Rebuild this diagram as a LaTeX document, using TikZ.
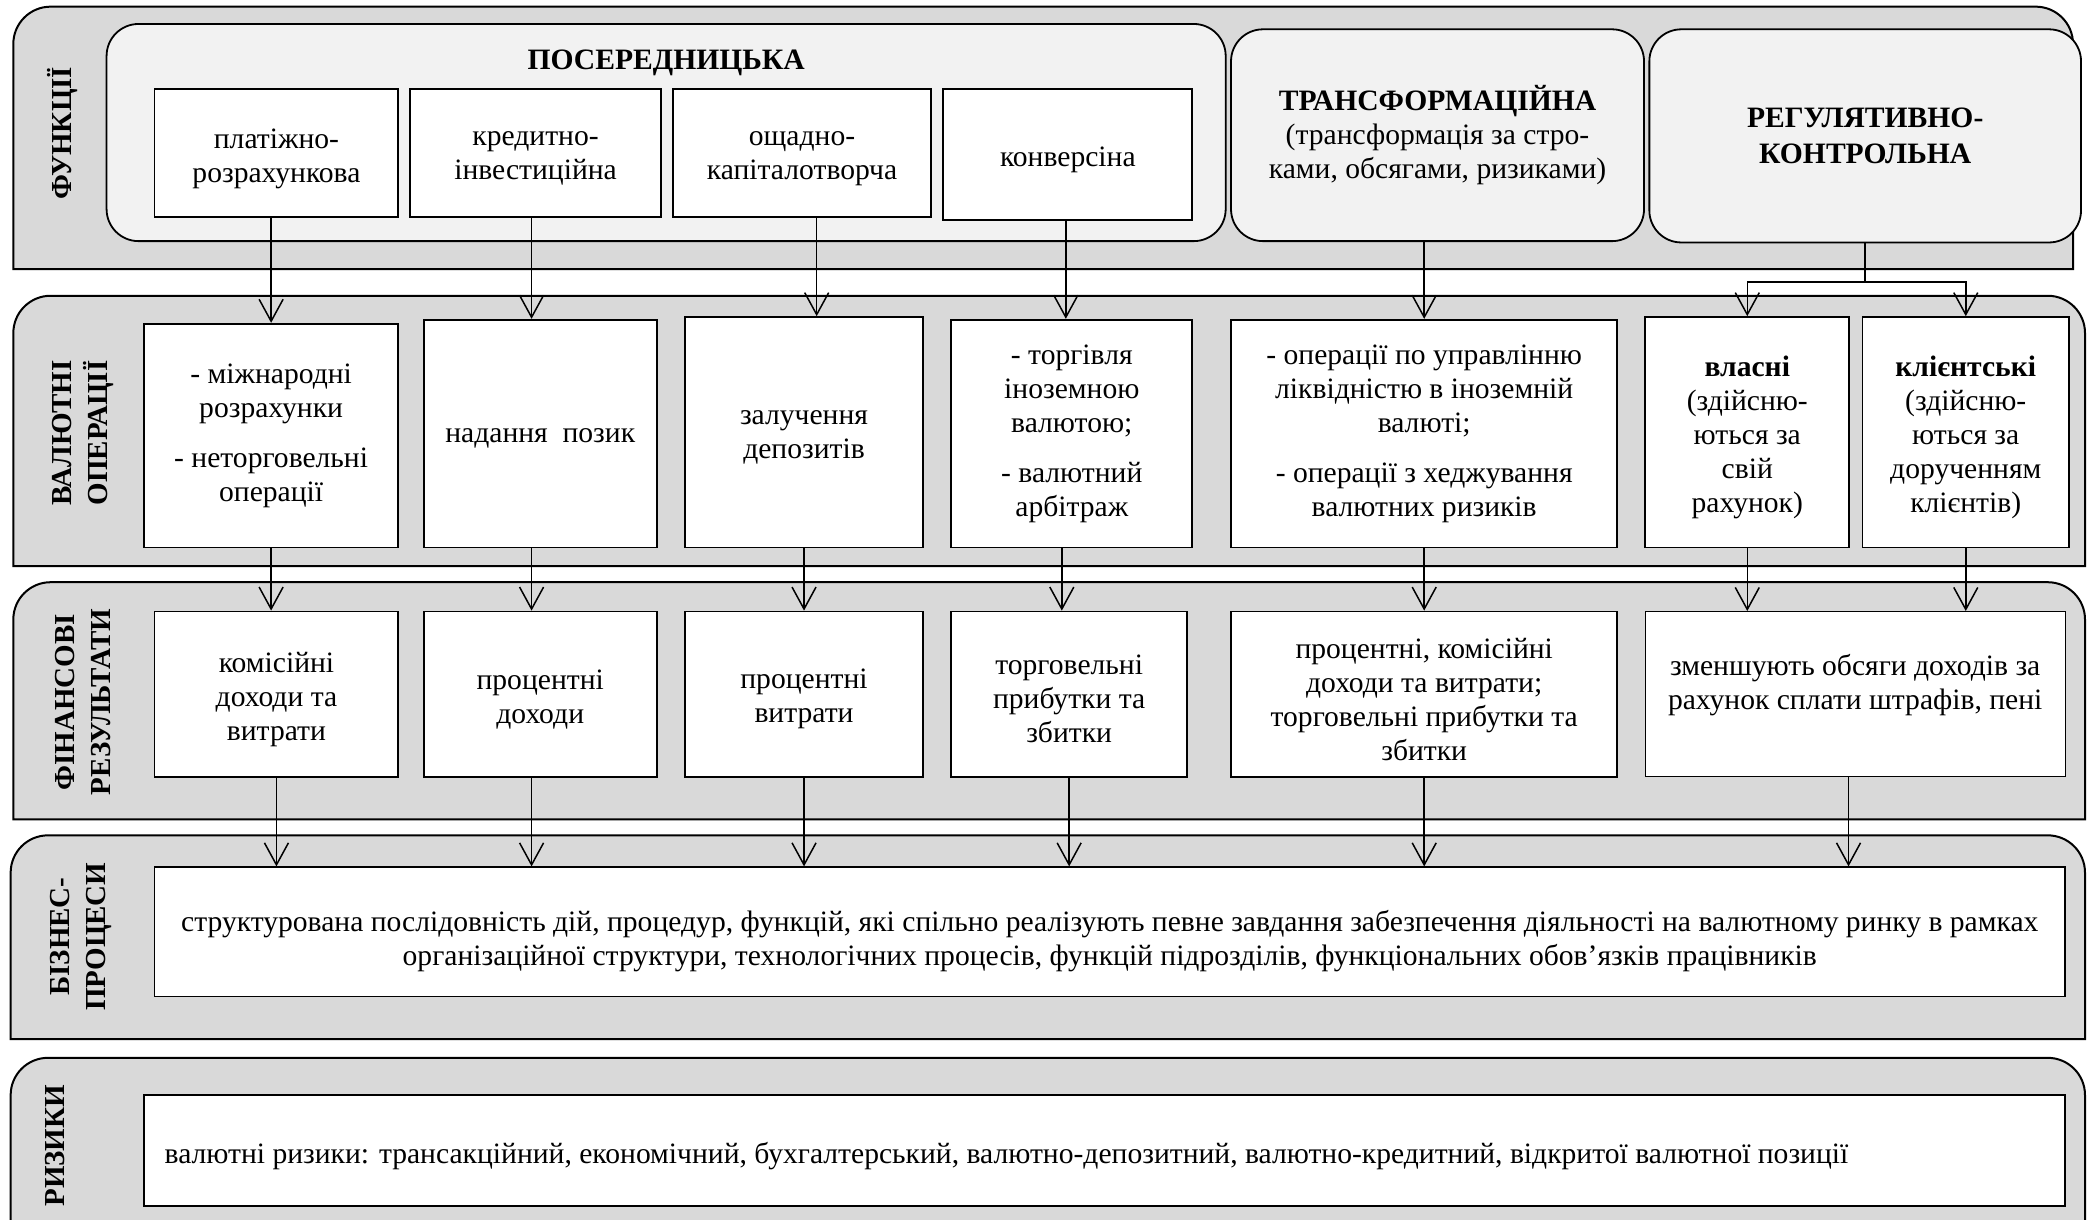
\documentclass[tikz,border=0pt]{standalone}
\usepackage{fontspec}
\setmainfont{Liberation Serif}
\usetikzlibrary{arrows.meta,calc,fit}

\begin{document}
\begin{tikzpicture}[x=0.6662pt,y=-0.6662pt,
  band/.style={draw=black,fill=bandColor,line width=1pt},
  group/.style={draw=black,fill=groupColor,line width=0.9pt,rounded corners=16pt,inner sep=0pt,fit={#1}},
  cell/.style={draw=black,fill=white,line width=0.9pt,inner sep=0pt,fit={#1}},
  ttl/.style={inner sep=0pt,align=center,font=\fontsize{14.8}{17}\selectfont},
  txt/.style={ttl,yshift=-2.6pt},
  side/.style={rotate=90,align=center,inner sep=0pt,font=\fontsize{14.5}{18}\selectfont\bfseries},
  link/.style={line width=0.75pt},
  arr/.style={link,-{Straight Barb[length=11pt,width=12pt]}}]
\definecolor{bandColor}{RGB}{217,217,217}
\definecolor{groupColor}{RGB}{242,242,242}
\useasboundingbox (0,0) rectangle (1568,915);
\clip (0,0) rectangle (1568,915);

\path[band] (10,202) -- (10,33) arc[start angle=180,end angle=90,radius=18.65pt] -- (1528,5) arc[start angle=90,end angle=0,radius=18.65pt] -- (1556,202) -- cycle;
\path[band] (10,425) -- (10,250) arc[start angle=180,end angle=90,radius=18.65pt] -- (1537,222) arc[start angle=90,end angle=0,radius=18.65pt] -- (1565,425) -- cycle;
\path[band] (10,615) -- (10,465) arc[start angle=180,end angle=90,radius=18.65pt] -- (1537,437) arc[start angle=90,end angle=0,radius=18.65pt] -- (1565,615) -- cycle;
\path[band] (8,780) -- (8,655) arc[start angle=180,end angle=90,radius=18.65pt] -- (1537,627) arc[start angle=90,end angle=0,radius=18.65pt] -- (1565,780) -- cycle;
\path[band] (8,940) -- (8,822) arc[start angle=180,end angle=90,radius=18.65pt] -- (1537,794) arc[start angle=90,end angle=0,radius=18.65pt] -- (1565,940) -- cycle;

\node[side] (lblFun) at (47,100) {ФУНКЦІЇ};
\node[side] (lblOps) at (62,325) {ВАЛЮТНІ\\ОПЕРАЦІЇ};
\node[side] (lblRes) at (62,527) {ФІНАНСОВІ\\РЕЗУЛЬТАТИ};
\node[side] (lblProc) at (61,703) {БІЗНЕС-\\ПРОЦЕСИ};
\node[side] (lblRisk) at (41,860) {РИЗИКИ};

\node[group={(80,18) (920,181)}] (pos) {};
\node[ttl,font=\fontsize{14.8}{17}\selectfont\bfseries] (posText) at ($(pos.north)+(0,30)$) {ПОСЕРЕДНИЦЬКА};
\node[group={(924,22) (1234,181)}] (trans) {};
\node[ttl] (transText) at (trans) {\textbf{ТРАНСФОРМАЦІЙНА}\\(трансформація за стро-\\ками, обсягами, ризиками)};
\node[group={(1238,22) (1562,182)}] (reg) {};
\node[ttl,font=\fontsize{14.8}{18}\selectfont\bfseries] (regText) at (reg) {РЕГУЛЯТИВНО-\\КОНТРОЛЬНА};

\node[cell={(116,67) (299,163)}] (pay) {};
\node[txt] (payText) at (pay) {платіжно-\\розрахункова};
\node[cell={(308,67) (496,163)}] (cred) {};
\node[txt] (credText) at (cred) {кредитно-\\інвестиційна};
\node[cell={(505,67) (699,163)}] (sav) {};
\node[txt] (savText) at (sav) {ощадно-\\капіталотворча};
\node[cell={(708,67) (895,165)}] (conv) {};
\node[txt] (convText) at (conv) {конверсіна};

\node[cell={(108,243) (299,411)}] (opInt) {};
\node[txt] (opIntText) at ($(opInt)+(0,-4)$) {- міжнародні\\розрахунки\\[8pt]- неторговельні\\операції};
\node[cell={(318,240) (493,411)}] (opLoan) {};
\node[txt] (opLoanText) at (opLoan) {надання\ \ позик};
\node[cell={(514,238) (693,411)}] (opDep) {};
\node[txt] (opDepText) at (opDep) {залучення\\депозитів};
\node[cell={(714,240) (895,411)}] (opTrade) {};
\node[txt] (opTradeText) at ($(opTrade)+(0,-4)$) {- торгівля\\іноземною\\валютою;\\[8pt]- валютний\\арбітраж};
\node[cell={(924,240) (1214,411)}] (opLiq) {};
\node[txt] (opLiqText) at ($(opLiq)+(0,-4)$) {- операції по управлінню\\ліквідністю в іноземній\\валюті;\\[8pt]- операції з хеджування\\валютних ризиків};
\node[cell={(1235,238) (1388,411)}] (opOwn) {};
\node[txt] (opOwnText) at (opOwn) {\textbf{власні}\\(здійсню-\\ються за\\свій\\рахунок)};
\node[cell={(1398,238) (1553,411)}] (opCli) {};
\node[txt] (opCliText) at (opCli) {\textbf{клієнтські}\\(здійсню-\\ються за\\дорученням\\клієнтів)};

\node[cell={(116,459) (299,583)}] (resCom) {};
\node[txt] (resComText) at (resCom) {комісійні\\доходи та\\витрати};
\node[cell={(318,459) (493,583)}] (resInt) {};
\node[txt] (resIntText) at (resInt) {процентні\\доходи};
\node[cell={(514,459) (693,583)}] (resExp) {};
\node[txt] (resExpText) at (resExp) {процентні\\витрати};
\node[cell={(714,459) (891,583)}] (resTrade) {};
\node[txt] (resTradeText) at (resTrade) {торговельні\\прибутки та\\збитки};
\node[cell={(924,459) (1214,583)}] (resMix) {};
\node[txt] (resMixText) at (resMix) {процентні, комісійні\\доходи та витрати;\\торговельні прибутки та\\збитки};
\node[cell={(1235,459) (1550,583)},line width=0.5pt] (resFine) {};
\node[txt] (resFineText) at ($(resFine)+(0,-11)$) {зменшують обсяги доходів за\\рахунок сплати штрафів, пені};

\node[cell={(116,651) (1550,748)}] (proc) {};
\node[txt] (procText) at ($(proc)+(0,3)$) {структурована послідовність дій, процедур, функцій, які спільно реалізують певне завдання забезпечення діяльності на валютному ринку в рамках\\організаційної структури, технологічних процесів, функцій підрозділів, функціональних обов’язків працівників};

\node[cell={(108,822) (1550,905)}] (risk) {};
\node[txt,anchor=west] (riskText) at ($(risk.west)+(16,0)$) {валютні ризики: трансакційний, економічний, бухгалтерський, валютно-депозитний, валютно-кредитний, відкритої валютної позиції};

\draw[arr] (opInt.north |- pay.south) -- (opInt.north);
\draw[arr] ($(cred.south)+(-3,0)$) -- ($(opLoan.north)+(-6.5,0)$);
\draw[arr] ($(sav.south)+(11,0)$) -- ($(opDep.north)+(9.5,0)$);
\draw[arr] ($(conv.south)+(-1.5,0)$) -- ($(opTrade.north)+(-4.5,0)$);
\draw[arr] (opLiq.north |- trans.south) -- (opLiq.north);
\coordinate (regFork) at ($(reg.south)+(0,29)$);
\draw[link] (reg.south) -- (regFork);
\draw[arr] (regFork) -| (opOwn.north);
\draw[arr] (regFork) -| (opCli.north);

\draw[arr] (opInt.south) -- (opInt.south |- resCom.north);
\draw[arr] ($(opLoan.south)+(-6.5,0)$) -- ($(resInt.north)+(-6.5,0)$);
\draw[arr] (opDep.south) -- (resExp.north);
\draw[arr] ($(opTrade.south)+(-7.5,0)$) -- ($(resTrade.north)+(-5.5,0)$);
\draw[arr] (opLiq.south) -- (resMix.north);
\draw[arr] (opOwn.south) -- (opOwn.south |- resFine.north);
\draw[arr] (opCli.south) -- (opCli.south |- resFine.north);

\draw[arr] (resCom.south) -- (resCom.south |- proc.north);
\draw[arr] ($(resInt.south)+(-6.5,0)$) -- ($(resInt.south |- proc.north)+(-6.5,0)$);
\draw[arr] (resExp.south) -- (resExp.south |- proc.north);
\draw[arr] (resTrade.south) -- (resTrade.south |- proc.north);
\draw[arr] (resMix.south) -- (resMix.south |- proc.north);
\draw[arr] ($(resFine.south)+(-5,0)$) -- ($(resFine.south |- proc.north)+(-5,0)$);
\end{tikzpicture}
\end{document}
